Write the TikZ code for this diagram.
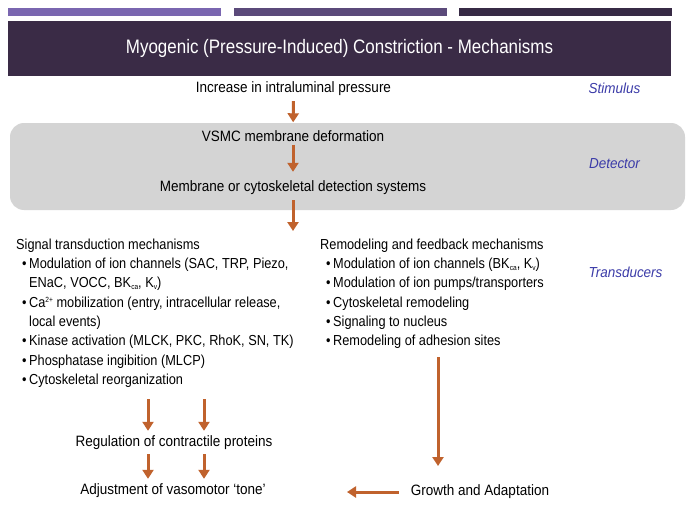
\documentclass[tikz,border=0pt]{standalone}
\usepackage{fontspec}
\setmainfont{Liberation Sans}
\newfontfamily\titlef[FakeStretch=0.87]{Liberation Sans}
\newfontfamily\cond[FakeStretch=0.9]{Liberation Sans}
\newfontfamily\labf[FakeStretch=0.93]{Liberation Sans}
\newfontfamily\listf[FakeStretch=0.88]{Liberation Sans}
\usetikzlibrary{arrows.meta}
\definecolor{barA}{HTML}{7A66B0}
\definecolor{barB}{HTML}{5B4A7A}
\definecolor{barC}{HTML}{372A45}
\definecolor{titlepurple}{HTML}{3A2B46}
\definecolor{boxgray}{HTML}{D4D4D4}
\definecolor{labblue}{HTML}{3B3BA8}
\definecolor{arrowc}{HTML}{C0622D}
\newcommand\mysub[1]{\raisebox{-1.5pt}{\fontsize{7.5}{8}\selectfont #1}}
\newcommand\mysup[1]{\raisebox{5pt}{\fontsize{7.5}{8}\selectfont #1}}
\tikzset{
  bar/.style={fill=#1, draw=none, minimum width=213pt, minimum height=8pt, inner sep=0pt},
  ctext/.style={font=\cond\fontsize{15}{17}\selectfont, inner sep=0pt, text=black},
  lab/.style={font=\labf\itshape\fontsize{14.5}{16}\selectfont, inner sep=0pt, text=labblue},
  listblock/.style={anchor=north west, inner sep=0pt, font=\listf\fontsize{14.5}{19.3}\selectfont},
  arr/.style={draw=arrowc, line width=3pt, -{Triangle[length=9pt,width=11pt]}},
}
\begin{document}
\begin{tikzpicture}[x=1pt,y=-1pt]
\useasboundingbox (0,0) rectangle (696,511);
\fill[white] (0,0) rectangle (696,511);
% top bars
\node[bar=barA] (b1) at (114.5,12) {};
\node[bar=barB] (b2) at (340,12) {};
\node[bar=barC] (b3) at (565,12) {};
% title
\node[fill=titlepurple, minimum width=663pt, minimum height=55pt, inner sep=0pt,
      text=white, font=\titlef\fontsize{19.5}{22}\selectfont] (title) at (339.5,48.5)
      {Myogenic (Pressure-Induced) Constriction - Mechanisms};
% detector box
\node[fill=boxgray, rounded corners=14pt, minimum width=675pt, minimum height=87pt, inner sep=0pt] (detbox) at (347.5,166.5) {};
% centre texts
\node[ctext] (inc) at (293.5,89) {Increase in intraluminal pressure};
\node[ctext] (vsmc) at (293,136) {VSMC membrane deformation};
\node[ctext] (memb) at (293,188) {Membrane or cytoskeletal detection systems};
% labels
\node[lab] (stim) at (614.5,88) {Stimulus};
\node[lab] (det) at (614.5,164) {Detector};
\node[lab] (trans) at (625.5,272) {Transducers};
% arrows top
\draw[arr, shorten <=5pt, shorten >=8pt] (inc.south) -- (vsmc.north);
\draw[arr, shorten <=3pt, shorten >=9pt] (vsmc.south) -- (memb.north);
\coordinate (tA) at (293,231);
\draw[arr, shorten <=5pt] (memb.south) -- (tA);
% signal block
\node[listblock] (sig) at (16,235.5) {%
\begin{tabular}{@{}l@{\hspace{2.5pt}}l@{}}
\multicolumn{2}{@{}l@{}}{Signal transduction mechanisms}\\
\hspace{6pt}\textbullet & Modulation of ion channels (SAC, TRP, Piezo,\\
 & ENaC, VOCC, BK\mysub{ca}, K\mysub{v})\\
\hspace{6pt}\textbullet & Ca\mysup{2+} mobilization (entry, intracellular release,\\
 & local events)\\
\hspace{6pt}\textbullet & Kinase activation (MLCK, PKC, RhoK, SN, TK)\\
\hspace{6pt}\textbullet & Phosphatase ingibition (MLCP)\\
\hspace{6pt}\textbullet & Cytoskeletal reorganization
\end{tabular}};
% remodeling block
\node[listblock] (rem) at (320,235.5) {%
\begin{tabular}{@{}l@{\hspace{2.5pt}}l@{}}
\multicolumn{2}{@{}l@{}}{Remodeling and feedback mechanisms}\\
\hspace{6pt}\textbullet & Modulation of ion channels (BK\mysub{ca}, K\mysub{v})\\
\hspace{6pt}\textbullet & Modulation of ion pumps/transporters\\
\hspace{6pt}\textbullet & Cytoskeletal remodeling\\
\hspace{6pt}\textbullet & Signaling to nucleus\\
\hspace{6pt}\textbullet & Remodeling of adhesion sites
\end{tabular}};
% bottom texts
\node[ctext] (reg) at (174,443) {Regulation of contractile proteins};
\node[ctext] (adj) at (173,491) {Adjustment of vasomotor ‘tone’};
\node[ctext] (grow) at (480,492) {Growth and Adaptation};
% bottom arrows
\coordinate (sA) at (148,399);
\coordinate (sB) at (204,399);
\draw[arr, shorten >=5pt] (sA) -- (sA |- reg.north);
\draw[arr, shorten >=5pt] (sB) -- (sB |- reg.north);
\draw[arr, shorten <=4pt, shorten >=5pt] (sA |- reg.south) -- (sA |- adj.north);
\draw[arr, shorten <=4pt, shorten >=5pt] (sB |- reg.south) -- (sB |- adj.north);
\coordinate (rA) at (438,357);
\coordinate (rB) at (438,466);
\draw[arr] (rA) -- (rB);
\coordinate (hA) at (347,492);
\draw[arr, shorten <=12pt] (grow.west) -- (hA);
\end{tikzpicture}
\end{document}
